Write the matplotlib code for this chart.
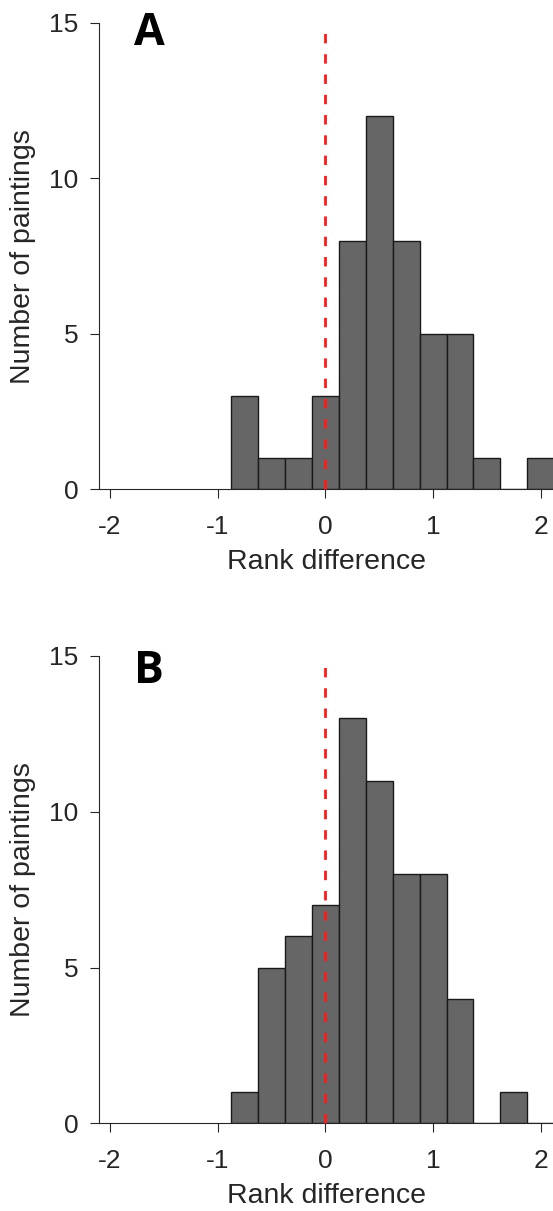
import matplotlib
matplotlib.use('Agg')
import matplotlib.pyplot as plt
import numpy as np

# histogram bins (rank difference) shared by both panels
bin_edges = [-0.875, -0.625, -0.375, -0.125, 0.125, 0.375, 0.625,
             0.875, 1.125, 1.375, 1.625, 1.875, 2.125]
counts_a = [3, 1, 1, 3, 8, 12, 8, 5, 5, 1, 0, 1]
counts_b = [1, 5, 6, 7, 13, 11, 8, 8, 4, 0, 1, 0]
panel_labels = ['A', 'B']
x_ticks = [-2, -1, 0, 1, 2]
y_ticks = [0, 5, 10, 15]

plt.rcParams['font.family'] = ['Liberation Sans', 'DejaVu Sans']
txt = '#262626'

fig = plt.figure(figsize=(5.53, 12.11), dpi=100)
positions = [[0.1796, 0.5958, 0.8204, 0.3855],
             [0.1796, 0.0724, 0.8204, 0.3859]]
label_y = [0.952, 0.942]

for pos, counts, lab, ly in zip(positions, [counts_a, counts_b], panel_labels, label_y):
    ax = fig.add_axes(pos)
    edges = np.array(bin_edges)
    ax.bar(edges[:-1], counts, width=np.diff(edges), align='edge',
           color='#666666', edgecolor='#1a1a1a', linewidth=1.0, zorder=2)
    ax.plot([0, 0], [0, 14.8], color='#ff1a1a', linestyle=(0, (3.4, 3.9)),
            linewidth=2, zorder=3, clip_on=False)
    ax.set_xlim(-2.1, 2.114)
    ax.set_ylim(0, 15)
    ax.set_xticks(x_ticks)
    ax.set_yticks(y_ticks)
    ax.set_xticklabels([str(t) for t in x_ticks])
    for s in ['top', 'right']:
        ax.spines[s].set_visible(False)
    for s in ['left', 'bottom']:
        ax.spines[s].set_color(txt)
        ax.spines[s].set_linewidth(0.8)
    ax.tick_params(direction='out', length=6.7, width=0.8, color=txt,
                   labelcolor=txt, labelsize=19)
    ax.tick_params(axis='x', pad=12)
    ax.tick_params(axis='y', pad=8.5)
    ax.set_xlabel('Rank difference', fontsize=20.5, color=txt, labelpad=7)
    ax.set_ylabel('Number of paintings', fontsize=20.5, color=txt, labelpad=9)
    ax.text(0.1095, ly, lab, transform=ax.transAxes, fontsize=32,
            fontweight='bold', family=['Open Sans', 'DejaVu Sans'],
            ha='center', va='baseline', color='black')

fig.savefig('out.png', dpi=100)
